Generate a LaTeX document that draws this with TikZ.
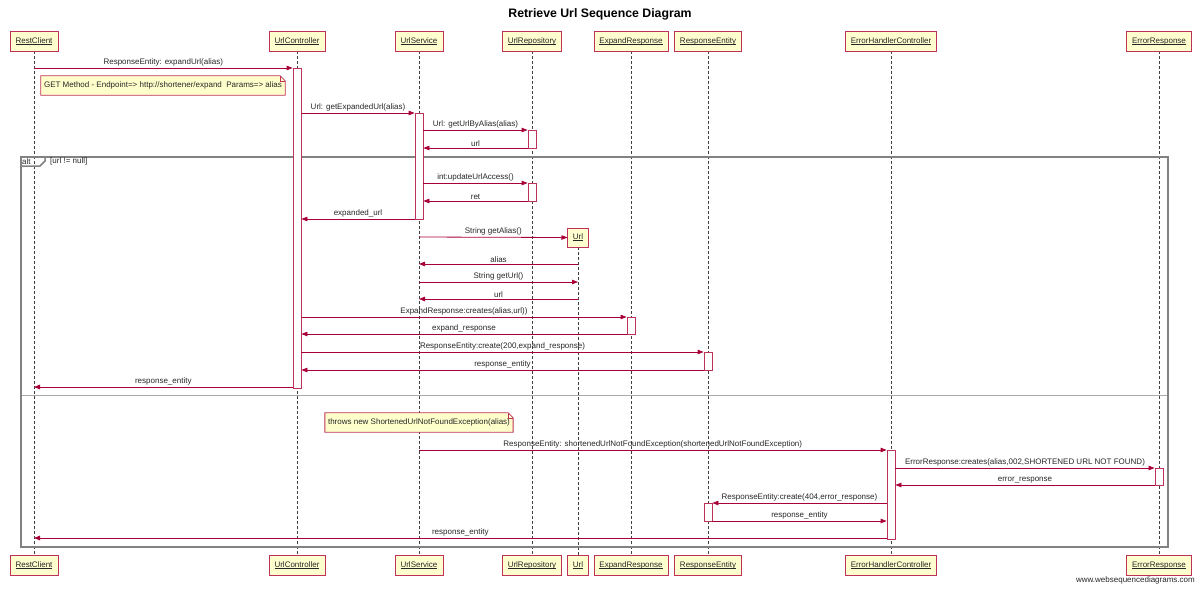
\documentclass[tikz,border=0pt]{standalone}
\usepackage{fontspec}
\setmainfont{Liberation Sans}
\usetikzlibrary{arrows.meta}
\definecolor{crim}{RGB}{168,0,54}
\definecolor{boxborder}{RGB}{190,50,90}
\definecolor{boxfill}{RGB}{254,254,206}
\definecolor{notefill}{RGB}{255,255,204}
\definecolor{framegray}{RGB}{130,130,130}
\definecolor{sepgray}{RGB}{170,170,170}
\pgfdeclarelayer{bg}
\pgfdeclarelayer{notebg}
\pgfsetlayers{bg,notebg,main}
\newcommand{\ulname}[1]{\setbox0\hbox{#1}\rlap{\rule[-1.3pt]{\wd0}{0.5pt}}\box0}
\begin{document}
\begin{tikzpicture}[x=1pt,y=-1pt,
  font=\fontsize{8}{9.5}\selectfont,
  every node/.style={text=black!85},
  part/.style={draw=boxborder, fill=boxfill, line width=0.8pt, minimum height=20pt, inner xsep=5.5pt, inner ysep=0pt, text height=6pt, text depth=1.8pt},
  act/.style={draw=boxborder, fill=white, line width=0.8pt, minimum width=8pt, inner sep=0pt, anchor=north},
  life/.style={black!75, line width=0.6pt, dash pattern=on 3pt off 2pt},
  msg/.style={crim, line width=0.8pt, -{Triangle[length=6pt,width=4.5pt]}},
  lbl/.style={midway, above, inner sep=1.2pt},
  notebox/.style={draw=boxborder, fill=notefill, line width=0.8pt},
  framestyle/.style={draw=framegray, line width=1.5pt},
  sepstyle/.style={draw=sepgray, line width=1pt}]
\useasboundingbox (0,0) rectangle (1200,590);

% title
\node[font=\bfseries\fontsize{12.3}{14}\selectfont, text=black] (title) at (600,14) {Retrieve Url Sequence Diagram};

% participants (top)
\node[part] (rc) at (34,41) {\ulname{RestClient}};
\node[part] (uc) at (297,41) {\ulname{UrlController}};
\node[part] (us) at (419,41) {\ulname{UrlService}};
\node[part] (ur) at (532,41) {\ulname{UrlRepository}};
\node[part] (er) at (631,41) {\ulname{ExpandResponse}};
\node[part] (re) at (708,41) {\ulname{ResponseEntity}};
\node[part] (ehc) at (891,41) {\ulname{ErrorHandlerController}};
\node[part] (eresp) at (1159,41) {\ulname{ErrorResponse}};
\node[part, minimum height=19pt, inner xsep=5pt] (url) at (578,237.5) {\ulname{Url}};

% participants (bottom)
\node[part] (rcB) at (34,565) {\ulname{RestClient}};
\node[part] (ucB) at (297,565) {\ulname{UrlController}};
\node[part] (usB) at (419,565) {\ulname{UrlService}};
\node[part] (urB) at (532,565) {\ulname{UrlRepository}};
\node[part, inner xsep=5pt] (urlB) at (578,565) {\ulname{Url}};
\node[part] (erB) at (631,565) {\ulname{ExpandResponse}};
\node[part] (reB) at (708,565) {\ulname{ResponseEntity}};
\node[part] (ehcB) at (891,565) {\ulname{ErrorHandlerController}};
\node[part] (erespB) at (1159,565) {\ulname{ErrorResponse}};

% lifelines and frame
\begin{pgfonlayer}{bg}
\draw[life] (rc.south) -- (rcB.north);
\draw[life] (uc.south) -- (ucB.north);
\draw[life] (us.south) -- (usB.north);
\draw[life] (ur.south) -- (urB.north);
\draw[life] (url.south) -- (urlB.north);
\draw[life] (er.south) -- (erB.north);
\draw[life] (re.south) -- (reB.north);
\draw[life] (ehc.south) -- (ehcB.north);
\draw[life] (eresp.south) -- (erespB.north);
\draw[sepstyle] (21,395) -- (1168,395);
\draw[framestyle] (21,157) rectangle (1168,547);
\draw[framestyle] (21,166) -- (40,166) -- (45,161) -- (45,157);
\end{pgfonlayer}
\node[anchor=west, inner sep=0pt] (altlbl) at (22,161.5) {alt};
\node[anchor=west, inner sep=0pt] (cond) at (50,161.5) {[url != null]};

% activations
\node[act, minimum height=320pt] (a1) at (297,68) {};
\node[act, minimum height=106pt] (a2) at (419,113) {};
\node[act, minimum height=18pt] (a3) at (532,130) {};
\node[act, minimum height=18pt] (a4) at (532,183) {};
\node[act, minimum height=17pt] (a5) at (631,317) {};
\node[act, minimum height=18pt] (a6) at (708,352) {};
\node[act, minimum height=89pt] (a7) at (891,450) {};
\node[act, minimum height=17pt] (a8) at (1159,468) {};
\node[act, minimum height=18pt] (a9) at (708,503) {};

% notes
\node[inner xsep=3pt, inner ysep=0pt, minimum height=19pt] (n1) at (163,85.5) {GET Method - Endpoint=> http://shortener/expand\ \ Params=> alias};
\node[inner xsep=3pt, inner ysep=0pt, minimum height=19pt] (n2) at (419,422.5) {throws new ShortenedUrlNotFoundException(alias)};
\begin{pgfonlayer}{notebg}
\draw[notebox] (n1.north west) -- ([xshift=-5pt]n1.north east) -- ([yshift=-5pt]n1.north east) -- (n1.south east) -- (n1.south west) -- cycle;
\draw[boxborder, line width=0.6pt] ([xshift=-5pt]n1.north east) -- ([xshift=-5pt,yshift=-5pt]n1.north east) -- ([yshift=-5pt]n1.north east);
\draw[notebox] (n2.north west) -- ([xshift=-5pt]n2.north east) -- ([yshift=-5pt]n2.north east) -- (n2.south east) -- (n2.south west) -- cycle;
\draw[boxborder, line width=0.6pt] ([xshift=-5pt]n2.north east) -- ([xshift=-5pt,yshift=-5pt]n2.north east) -- ([yshift=-5pt]n2.north east);
\end{pgfonlayer}

% messages
\draw[msg] (rc |- 0,68) -- (a1.west |- 0,68) node[lbl] {ResponseEntity: expandUrl(alias)};
\draw[msg] (a1.east |- 0,113) -- (a2.west |- 0,113) node[lbl] {Url: getExpandedUrl(alias)};
\draw[msg] (a2.east |- 0,130) -- (a3.west |- 0,130) node[lbl] {Url: getUrlByAlias(alias)};
\draw[msg] (a3.west |- 0,148) -- (a2.east |- 0,148) node[lbl] {url};
\draw[msg] (a2.east |- 0,183) -- (a4.west |- 0,183) node[lbl] {int:updateUrlAccess()};
\draw[msg] (a4.west |- 0,201) -- (a2.east |- 0,201) node[lbl] {ret};
\draw[msg] (a2.west |- 0,219) -- (a1.east |- 0,219) node[lbl] {expanded\_url};
\draw[msg] (us |- 0,237) -- (url.west) node[lbl] {String getAlias()};
\draw[msg] (url |- 0,264) -- (us |- 0,264) node[lbl] {alias};
\draw[msg] (us |- 0,282) -- (url |- 0,282) node[lbl] {String getUrl()};
\draw[msg] (url |- 0,299) -- (us |- 0,299) node[lbl] {url};
\draw[msg] (a1.east |- 0,317) -- (a5.west |- 0,317) node[lbl] {ExpandResponse:creates(alias,url))};
\draw[msg] (a5.west |- 0,334) -- (a1.east |- 0,334) node[lbl] {expand\_response};
\draw[msg] (a1.east |- 0,352) -- (a6.west |- 0,352) node[lbl] {ResponseEntity:create(200,expand\_response)};
\draw[msg] (a6.west |- 0,370) -- (a1.east |- 0,370) node[lbl] {response\_entity};
\draw[msg] (a1.west |- 0,387) -- (rc |- 0,387) node[lbl] {response\_entity};
\draw[msg] (us |- 0,450) -- (a7.west |- 0,450) node[lbl] {ResponseEntity: shortenedUrlNotFoundException(shortenedUrlNotFoundException)};
\draw[msg] (a7.east |- 0,468) -- (a8.west |- 0,468) node[lbl] {ErrorResponse:creates(alias,002,SHORTENED URL NOT FOUND)};
\draw[msg] (a8.west |- 0,485) -- (a7.east |- 0,485) node[lbl] {error\_response};
\draw[msg] (a7.west |- 0,503) -- (a9.east |- 0,503) node[lbl] {ResponseEntity:create(404,error\_response)};
\draw[msg] (a9.east |- 0,521) -- (a7.west |- 0,521) node[lbl] {response\_entity};
\draw[msg] (a7.west |- 0,538) -- (rc |- 0,538) node[lbl] {response\_entity};

% watermark
\node[anchor=east, inner sep=0pt] (wm) at (1195,580) {www.websequencediagrams.com};
\end{tikzpicture}
\end{document}
